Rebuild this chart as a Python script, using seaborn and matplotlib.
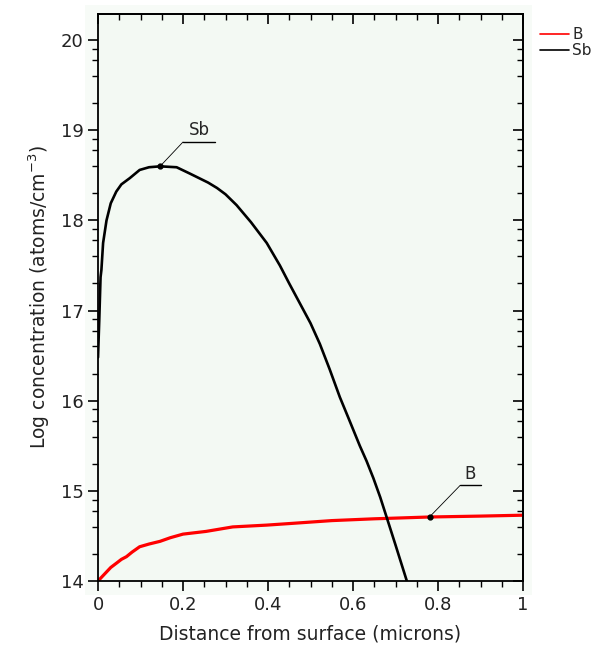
import numpy as np
import pandas as pd
import matplotlib
matplotlib.use("Agg")
import matplotlib.pyplot as plt
from matplotlib.patches import Rectangle
import seaborn as sns

# Sb profile (distance in microns, log concentration)
sb_x = [0.0, 0.003, 0.006, 0.008, 0.012, 0.02, 0.03, 0.043, 0.055, 0.075, 0.098,
        0.12, 0.146, 0.185, 0.216, 0.259, 0.28, 0.3, 0.326, 0.36, 0.397, 0.428,
        0.45, 0.475, 0.5, 0.522, 0.545, 0.569, 0.59, 0.616, 0.632, 0.648, 0.664,
        0.679, 0.70, 0.726, 0.745]
sb_y = [16.48, 16.9, 17.37, 17.45, 17.75, 18.0, 18.19, 18.32, 18.4, 18.47, 18.56,
        18.59, 18.6, 18.59, 18.52, 18.42, 18.36, 18.29, 18.17, 17.98, 17.75, 17.5,
        17.3, 17.08, 16.86, 16.63, 16.35, 16.04, 15.8, 15.5, 15.33, 15.14, 14.93,
        14.71, 14.4, 14.01, 13.75]

# B profile
b_x = [0.0, 0.01, 0.02, 0.03, 0.044, 0.055, 0.067, 0.08, 0.098, 0.12, 0.146, 0.17,
       0.2, 0.254, 0.317, 0.397, 0.459, 0.55, 0.65, 0.78, 0.9, 1.0]
b_y = [14.0, 14.05, 14.1, 14.15, 14.2, 14.24, 14.27, 14.32, 14.38, 14.41, 14.44, 14.48,
       14.52, 14.55, 14.6, 14.62, 14.64, 14.67, 14.69, 14.71, 14.72, 14.73]

# labelled points and label positions
sb_mark = (0.146, 18.6)
sb_label = (0.2, 0.275, 18.87)   # underline start, end, height
b_mark = (0.78, 14.71)
b_label = (0.852, 0.90, 15.06)

x_ticks = [0, 0.2, 0.4, 0.6, 0.8, 1]
x_ticklabels = ["0", "0.2", "0.4", "0.6", "0.8", "1"]
y_ticks = [14, 15, 16, 17, 18, 19, 20]

sns.set_style("ticks")
plt.rcParams["font.family"] = ["DejaVu Sans"]

fig = plt.figure(figsize=(6.03, 6.55), dpi=100)
fig.patches.append(Rectangle((85 / 603, 1 - 595 / 655), 447 / 603, 590 / 655,
                             transform=fig.transFigure, facecolor="#f7fbf7",
                             edgecolor="none", zorder=-10))
ax = fig.add_axes([98 / 603, 1 - 581 / 655, 425 / 603, 567 / 655])
ax.set_facecolor("#f3f9f3")

sb_df = pd.DataFrame({"x": sb_x, "y": sb_y})
b_df = pd.DataFrame({"x": b_x, "y": b_y})

sns.lineplot(data=b_df, x="x", y="y", color="#ff0000", lw=2.3, estimator=None,
             sort=False, ax=ax, label="B")
sns.lineplot(data=sb_df, x="x", y="y", color="black", lw=1.9, estimator=None,
             sort=False, ax=ax, label="Sb")

for mark, lab, txt in [(sb_mark, sb_label, "Sb"), (b_mark, b_label, "B")]:
    ax.plot([mark[0]], [mark[1]], "o", color="black", ms=3.5, zorder=5)
    ax.plot([mark[0], lab[0]], [mark[1], lab[2]], color="black", lw=0.6)
    ax.plot([lab[0], lab[1]], [lab[2], lab[2]], color="black", lw=1.0)
    ax.text((lab[0] + lab[1]) / 2, lab[2] + 0.03, txt, ha="center", va="bottom",
            fontsize=12)

ax.set_xlim(0, 1)
ax.set_ylim(14, 20.29)

x_minor = np.arange(0, 1.0001, 0.05)
y_minor = [n + np.log10(k) for n in range(14, 21) for k in (2, 4, 6, 8)]
y_minor = [v for v in y_minor if v < 20.29]

ax.set_xticks(x_ticks)
ax.set_xticklabels(x_ticklabels)
ax.set_xticks(x_minor, minor=True)
ax.set_yticks(y_ticks)
ax.set_yticks(y_minor, minor=True)

ax.tick_params(axis="both", which="major", labelsize=13, length=7, width=1.2,
               color="black", labelcolor="#222222", direction="out")
ax.tick_params(axis="both", which="minor", length=4, width=1.0, color="black",
               direction="out")
ax.tick_params(axis="both", which="both", top=False, right=False)

for side in ["top", "right", "bottom", "left"]:
    ax.spines[side].set_visible(True)
    ax.spines[side].set_color("black")
    ax.spines[side].set_linewidth(1.3)

# inward ticks on top and right
top = ax.secondary_xaxis("top")
top.set_xticks(x_ticks)
top.set_xticks(x_minor, minor=True)
top.tick_params(which="major", direction="in", length=7, width=1.2, labeltop=False,
                color="black")
top.tick_params(which="minor", direction="in", length=4, width=1.0, color="black")
right = ax.secondary_yaxis("right")
right.set_yticks(y_ticks)
right.set_yticks(y_minor, minor=True)
right.tick_params(which="major", direction="in", length=7, width=1.2,
                  labelright=False, color="black")
right.tick_params(which="minor", direction="in", length=4, width=1.0, color="black")
for sec in (top, right):
    for sp in sec.spines.values():
        sp.set_linewidth(1.3)
        sp.set_color("black")

ax.set_xlabel("Distance from surface (microns)", fontsize=13.5, color="#222222",
              labelpad=8)
ax.set_ylabel("Log concentration (atoms/cm$^{-3}$)", fontsize=13.5, color="#222222",
              labelpad=6)

handles, labels = ax.get_legend_handles_labels()
ax.legend_.remove()
leg = fig.legend(handles, labels, loc="upper left",
                 bbox_to_anchor=(531 / 603, 1 - 18 / 655), frameon=False,
                 fontsize=11, handlelength=1.9, handletextpad=0.2,
                 labelspacing=0.05, borderpad=0.1)
for line in leg.get_lines():
    line.set_linewidth(1.2)

fig.savefig("out.png", dpi=100)
